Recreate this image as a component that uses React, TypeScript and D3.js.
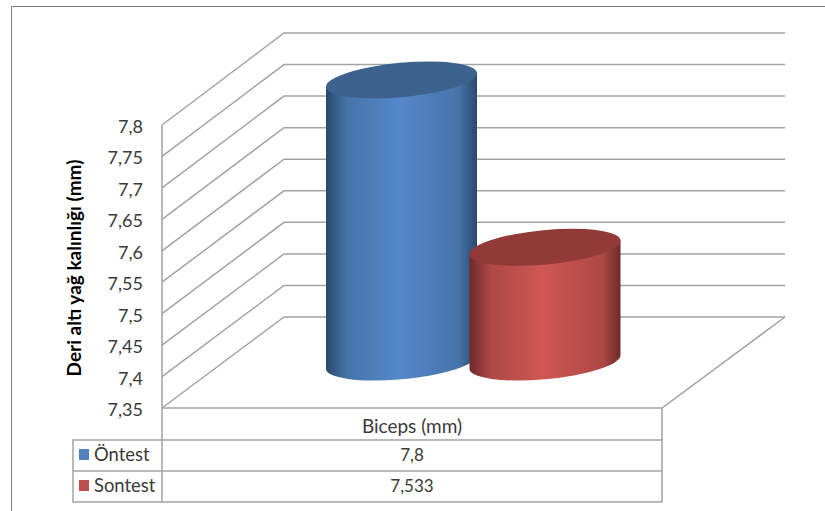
import React from "react";
import * as d3 from "d3";

// Chart values
const seriesNames = ["Öntest", "Sontest"];
const seriesValues = [7.8, 7.533];
const seriesLabels = ["7,8", "7,533"];
const category = "Biceps (mm)";
const yTitle = "Deri altı yağ kalınlığı (mm)";
const tickValues = [7.35, 7.4, 7.45, 7.5, 7.55, 7.6, 7.65, 7.7, 7.75, 7.8];
const tickLabels = ["7,35", "7,4", "7,45", "7,5", "7,55", "7,6", "7,65", "7,7", "7,75", "7,8"];

// Series palette: edge, shoulder, highlight, cap, legend swatch
const seriesColors = [
  { edge: "#2a486c", mid: "#4674a9", light: "#5588cb", cap: "#3e628e", key: "#4f81bd" },
  { edge: "#6d2b2a", mid: "#ad4845", light: "#cf5753", cap: "#923a37", key: "#c0504d" },
];

const W = 825;
const H = 511;
const lineColor = "#a3a3a3";
const textColor = "#3a3a3a";
const font = "Lato, Carlito, sans-serif";

// Oblique projection: front edge of the wall, back edge, and right end of the back wall
const frontX = 162;
const backX = 284;
const endX = 785;
const floorFrontRight = 662;
const yFront = d3.scaleLinear().domain([7.35, 7.8]).range([408, 125]);
const yBack = d3.scaleLinear().domain([7.35, 7.8]).range([317, 33]);
const yBar = d3.scaleLinear().domain([7.35, 7.8]).range([362, 80]);
const xBar = d3.scalePoint<string>().domain(seriesNames).range([401.5, 545]);

// Cylinder ellipse: half width to the tangent edge, rotated radii, tangent offset
const halfW = 75.5;
const rx = 75.8;
const ry = 17.2;
const tilt = -5.35;
const tangentDy = 6.7;

// Data table
const tableLeft = 73;
const tableSplit = 162;
const tableRight = 662;
const rowTops = [440, 471, 502];

function cylinderBody(cx: number, top: number, base: number) {
  return [
    `M${cx - halfW},${top + tangentDy}`,
    `L${cx - halfW},${base + tangentDy}`,
    `A${rx},${ry} ${tilt} 0 0 ${cx + halfW},${base - tangentDy}`,
    `L${cx + halfW},${top - tangentDy}`,
    "Z",
  ].join(" ");
}

export default function App() {
  const base = yBar(7.35);
  return (
    <svg
      width={W}
      height={H}
      viewBox={`0 0 ${W} ${H}`}
      style={{ position: "absolute", left: 0, top: 0, display: "block", background: "#fff" }}
    >
      <defs>
        {seriesColors.map((c, i) => (
          <linearGradient key={i} id={`cyl-${i}`} x1="0" x2="1" y1="0" y2="0">
            <stop offset="0" stopColor={c.edge} />
            <stop offset="0.14" stopColor={c.mid} />
            <stop offset="0.48" stopColor={c.light} />
            <stop offset="0.88" stopColor={c.mid} />
            <stop offset="1" stopColor={c.edge} />
          </linearGradient>
        ))}
      </defs>

      {/* Outer frame, open to the right and below */}
      <path d={`M11.5,${H} V6.5 H${W}`} fill="none" stroke="#808080" strokeWidth={1} />

      {/* Walls and floor grid */}
      <g fill="none" stroke={lineColor} strokeWidth={1.5}>
        {tickValues.map((t) => (
          <path key={t} d={`M${frontX},${yFront(t)} L${backX},${yBack(t)} H${endX}`} />
        ))}
        <path
          d={`M${frontX},${yFront(7.8)} V${rowTops[0]}
              M${frontX},${yFront(7.35)} H${floorFrontRight} L${endX},${yBack(7.35)}
              M${floorFrontRight},${yFront(7.35)} V${rowTops[0]}`}
        />
      </g>

      {/* Value axis labels */}
      <g fontFamily={font} fontSize={18} fill={textColor} textAnchor="end">
        {tickValues.map((t, i) => (
          <text key={t} x={143} y={yFront(t) + 8}>
            {tickLabels[i]}
          </text>
        ))}
      </g>
      <text
        transform="translate(81,268) rotate(-90)"
        textAnchor="middle"
        fontFamily={font}
        fontSize={19}
        fontWeight={700}
        fill="#000"
      >
        {yTitle}
      </text>

      {/* Cylinders */}
      {seriesNames.map((name, i) => {
        const cx = xBar(name) as number;
        const top = yBar(seriesValues[i]);
        return (
          <g key={name}>
            <path d={cylinderBody(cx, top, base)} fill={`url(#cyl-${i})`} />
            <ellipse
              cx={0}
              cy={0}
              rx={rx}
              ry={ry}
              transform={`translate(${cx},${top}) rotate(${tilt})`}
              fill={seriesColors[i].cap}
            />
          </g>
        );
      })}

      {/* Data table */}
      <g fill="none" stroke={lineColor} strokeWidth={1.5}>
        <path d={`M${tableLeft},${rowTops[0]} H${tableRight} V${rowTops[2]} H${tableLeft} Z`} />
        <path d={`M${tableLeft},${rowTops[1]} H${tableRight}`} />
        <path d={`M${tableSplit},${rowTops[0]} V${rowTops[2]}`} />
      </g>
      <text
        x={(tableSplit + tableRight) / 2}
        y={433}
        textAnchor="middle"
        fontFamily={font}
        fontSize={19}
        fill={textColor}
      >
        {category}
      </text>
      {seriesNames.map((name, i) => (
        <g key={name} fontFamily={font} fill={textColor}>
          <rect x={79} y={rowTops[i] + 9} width={10} height={11} fill={seriesColors[i].key} />
          <text x={94} y={rowTops[i] + 21} fontSize={18.4}>
            {name}
          </text>
          <text x={(tableSplit + tableRight) / 2} y={rowTops[i] + 21} textAnchor="middle" fontSize={17}>
            {seriesLabels[i]}
          </text>
        </g>
      ))}
    </svg>
  );
}
